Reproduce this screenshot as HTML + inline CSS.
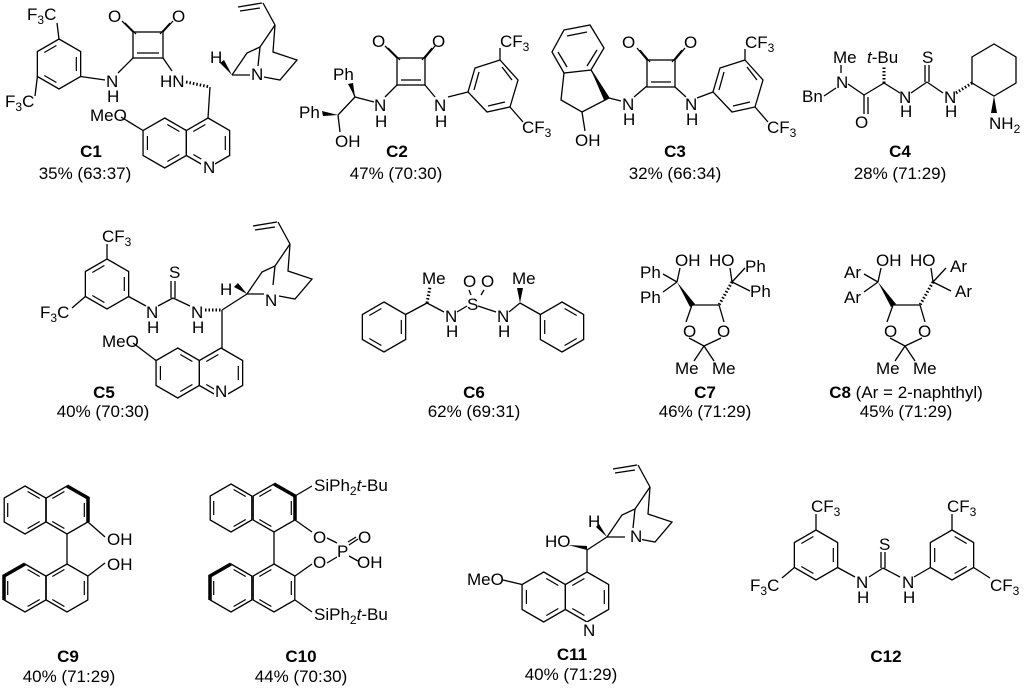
<!DOCTYPE html>
<html><head><meta charset="utf-8"><style>
html,body{margin:0;padding:0;background:#fff;}
svg{display:block;font-family:"Liberation Sans",Arial,sans-serif;font-size:17px;}
.b{font-weight:bold;}
.m{text-anchor:middle;}
</style></head><body>
<svg width="1024" height="692" viewBox="0 0 1024 692" xmlns="http://www.w3.org/2000/svg">
<defs>
<polygon id="h" points="0,-25 21.65,-12.5 21.65,12.5 0,25 -21.65,12.5 -21.65,-12.5" fill="none" stroke="#000" stroke-width="1.3"/>
<polygon id="h4" points="0,-24 20.8,-12 20.8,12 0,24 -20.8,12 -20.8,-12" fill="none" stroke="#000" stroke-width="1.3"/>
<g id="ia" stroke="#000" stroke-width="1.2" fill="none">
<line x1="2.6" y1="-18.5" x2="14.7" y2="-11.5"/><line x1="14.7" y1="11.5" x2="2.6" y2="18.5"/><line x1="-17.3" y1="7" x2="-17.3" y2="-7"/>
</g>
<g id="ib" stroke="#000" stroke-width="1.2" fill="none">
<line x1="17.3" y1="-7" x2="17.3" y2="7"/><line x1="-2.6" y1="18.5" x2="-14.7" y2="11.5"/><line x1="-14.7" y1="-11.5" x2="-2.6" y2="-18.5"/>
</g>
<g id="q" stroke="#000" stroke-width="1.3" fill="none">
<line x1="6" y1="-68" x2="30" y2="-72"/><line x1="8" y1="-64" x2="28" y2="-67"/>
<line x1="31" y1="-72" x2="43" y2="-50"/>
<polyline points="43,-50 28,-28 15,-22 0,0"/>
<line x1="28" y1="-28" x2="26" y2="-9"/>
<polyline points="43,-50 41,-23 65,-15 48,5 32,2"/>
<line x1="0" y1="0" x2="18" y2="0"/>
</g>
<g id="tad">
<g stroke="#000" stroke-width="1.3" fill="none">
<line x1="663" y1="274" x2="677" y2="282"/><line x1="663" y1="292" x2="677" y2="282"/>
<line x1="680" y1="268" x2="677" y2="282"/>
<line x1="732" y1="282" x2="730" y2="268"/><line x1="732" y1="282" x2="745" y2="268"/><line x1="732" y1="282" x2="750" y2="291"/>
<line x1="692" y1="305" x2="719" y2="305"/>
<line x1="692" y1="305" x2="686" y2="322"/><line x1="719" y1="305" x2="724" y2="322"/>
<line x1="689" y1="338" x2="704" y2="346"/><line x1="721" y1="338" x2="704" y2="346"/>
<line x1="704" y1="346" x2="694" y2="361"/><line x1="704" y1="346" x2="714" y2="361"/>
<line x1="732" y1="282" x2="719" y2="305" stroke-dasharray="1.5,2" stroke-width="3"/>
</g>
<polygon points="677,282 690,307 695,304" fill="#000"/>
<text x="683" y="337">O</text><text x="717" y="337">O</text>
<text x="675" y="374">Me</text><text x="712" y="374">Me</text>
<text x="675" y="266">OH</text><text x="709" y="266">HO</text>
</g>
</defs>
<g stroke="#000" stroke-width="1.3" fill="none">
<!-- C1 -->
<use href="#h" x="59" y="64"/><use href="#ib" x="59" y="64"/>
<line x1="57" y1="23" x2="59" y2="39"/><line x1="35" y1="96" x2="37.4" y2="76.5"/>
<line x1="80.6" y1="76.5" x2="105" y2="80"/><line x1="118" y1="73" x2="133" y2="58"/>
<rect x="133" y="32" width="30" height="26"/><line x1="137" y1="53" x2="159" y2="53"/>
<line x1="133" y1="32" x2="122" y2="21"/><line x1="136" y1="34" x2="125" y2="23"/>
<line x1="163" y1="32" x2="173" y2="21"/><line x1="160" y1="34" x2="170" y2="23"/>
<line x1="163" y1="58" x2="172" y2="71"/>
<line x1="186" y1="82" x2="210" y2="87" stroke-dasharray="1.5,2" stroke-width="3"/>
<line x1="210" y1="87" x2="208" y2="118"/>
<use href="#q" x="232" y="75"/>
<use href="#h" x="208" y="143"/><use href="#h" x="164.7" y="143"/>
<use href="#ib" x="208" y="143"/><use href="#ia" x="164.7" y="143"/>
<line x1="121" y1="117" x2="143" y2="130.5"/>
<!-- C2 -->
<line x1="350" y1="84" x2="355" y2="97"/>
<line x1="355" y1="97" x2="374" y2="102"/><line x1="355" y1="97" x2="338" y2="115"/>
<line x1="338" y1="115" x2="340" y2="132"/>
<line x1="385" y1="97" x2="397" y2="85"/>
<rect x="397" y="58" width="28" height="27"/><line x1="401" y1="80" x2="421" y2="80"/>
<line x1="397" y1="58" x2="385" y2="46"/><line x1="400" y1="60" x2="388" y2="48"/>
<line x1="425" y1="58" x2="435" y2="46"/><line x1="422" y1="60" x2="432" y2="48"/>
<line x1="425" y1="85" x2="435" y2="97"/><line x1="448" y1="97" x2="468" y2="92"/>
<polygon points="500,60 518,80 510,107 487,112 468,92 475,68"/>
<line x1="502" y1="67" x2="512" y2="80"/><line x1="505" y1="102" x2="488" y2="106"/><line x1="474" y1="90" x2="479" y2="72"/>
<line x1="500" y1="48" x2="500" y2="60"/><line x1="510" y1="107" x2="523" y2="122"/>
<!-- C3 -->
<polygon points="564,30 590,25 604,48 591,70 564,73 552,52"/>
<line x1="567" y1="36" x2="587" y2="32"/><line x1="597" y1="50" x2="587" y2="66"/><line x1="567" y1="67" x2="558" y2="52"/>
<polyline points="564,73 561,100 582,112 609,98 591,70"/>
<line x1="582" y1="112" x2="585" y2="131"/>
<line x1="609" y1="98" x2="621" y2="101"/><line x1="634" y1="97" x2="647" y2="86"/>
<rect x="647" y="60" width="28" height="27"/><line x1="651" y1="82" x2="671" y2="82"/>
<line x1="647" y1="60" x2="637" y2="48"/><line x1="650" y1="62" x2="640" y2="50"/>
<line x1="675" y1="60" x2="685" y2="48"/><line x1="672" y1="62" x2="682" y2="50"/>
<line x1="675" y1="87" x2="686" y2="97"/><line x1="697" y1="98" x2="713" y2="92"/>
<polygon points="745,60 763,80 755,107 732,112 713,92 720,68"/>
<line x1="747" y1="67" x2="757" y2="80"/><line x1="750" y1="102" x2="733" y2="106"/><line x1="719" y1="90" x2="724" y2="72"/>
<line x1="745" y1="49" x2="745" y2="60"/><line x1="755" y1="107" x2="768" y2="122"/>
<!-- C4 -->
<line x1="841" y1="65" x2="841" y2="73"/><line x1="824" y1="96" x2="836" y2="88"/>
<line x1="848" y1="84" x2="864" y2="95"/>
<line x1="864" y1="95" x2="864" y2="114"/><line x1="868" y1="97" x2="868" y2="114"/>
<line x1="864" y1="95" x2="884" y2="83"/>
<line x1="884" y1="83" x2="884" y2="66" stroke-dasharray="1.5,2" stroke-width="3"/>
<line x1="884" y1="83" x2="900" y2="93"/>
<line x1="911" y1="93" x2="927" y2="82"/>
<line x1="925" y1="82" x2="925" y2="65"/><line x1="929" y1="82" x2="929" y2="65"/>
<line x1="927" y1="82" x2="943" y2="93"/>
<line x1="956" y1="93" x2="972" y2="83" stroke-dasharray="1.5,2" stroke-width="3"/>
<polygon points="972,83 972,57 994,44 1016,57 1016,83 994,96"/>
<!-- C5 -->
<use href="#h" x="107" y="284"/><use href="#ib" x="107" y="284"/>
<line x1="107" y1="244" x2="107" y2="259"/><line x1="72" y1="308" x2="85.4" y2="296.5"/>
<line x1="128.6" y1="296.5" x2="146" y2="306"/>
<line x1="158" y1="306" x2="173" y2="298"/>
<line x1="171" y1="298" x2="171" y2="281"/><line x1="175" y1="298" x2="175" y2="281"/>
<line x1="173" y1="298" x2="190" y2="306"/>
<line x1="205" y1="310" x2="222" y2="310" stroke-dasharray="1.5,2" stroke-width="3"/>
<line x1="222" y1="310" x2="222" y2="348"/>
<use href="#q" x="247" y="294"/>
<line x1="222" y1="310" x2="247" y2="294"/>
<use href="#h" x="221" y="373"/><use href="#h" x="177.7" y="373"/>
<use href="#ib" x="221" y="373"/><use href="#ia" x="177.7" y="373"/>
<line x1="133" y1="343" x2="156" y2="360.5"/>
<!-- C6 -->
<use href="#h" x="384" y="327"/><use href="#h" x="562" y="327"/>
<use href="#ib" x="384" y="327"/><use href="#ia" x="562" y="327"/>
<line x1="405.6" y1="314.5" x2="427" y2="303"/>
<line x1="427" y1="303" x2="430" y2="287" stroke-dasharray="1.5,2" stroke-width="3"/>
<line x1="427" y1="303" x2="444" y2="312"/>
<line x1="457" y1="312" x2="467" y2="306"/>
<line x1="478" y1="306" x2="496" y2="312"/>
<line x1="509" y1="312" x2="520" y2="303"/>
<line x1="520" y1="303" x2="540.4" y2="314.5"/>
<line x1="469" y1="290" x2="471" y2="295"/><line x1="484" y1="290" x2="481" y2="295"/>
<!-- C9 -->
<use href="#h4" x="25" y="510"/><use href="#h4" x="67" y="510"/>
<use href="#h4" x="25" y="588"/><use href="#h4" x="67" y="588"/>
<use href="#ia" x="25" y="510"/><use href="#ib" x="67" y="510"/>
<use href="#ia" x="25" y="588"/><use href="#ib" x="67" y="588"/>
<line x1="67" y1="534" x2="67" y2="564"/><line x1="88" y1="522" x2="105" y2="537"/><line x1="88" y1="576" x2="105" y2="563"/>
<polyline points="67,486 88,498 88,522" stroke-width="3.5"/>
<polyline points="4,600 4,576 25,564" stroke-width="3.5"/>
<!-- C10 -->
<use href="#h4" x="231" y="508"/><use href="#h4" x="274" y="508"/>
<use href="#h4" x="231" y="588"/><use href="#h4" x="274" y="588"/>
<use href="#ia" x="231" y="508"/><use href="#ib" x="274" y="508"/>
<use href="#ia" x="231" y="588"/><use href="#ib" x="274" y="588"/>
<line x1="274" y1="532" x2="274" y2="564"/><line x1="295" y1="496" x2="312" y2="486"/><line x1="295" y1="600" x2="312" y2="612"/>
<line x1="295" y1="520" x2="312" y2="532"/><line x1="295" y1="576" x2="312" y2="564"/>
<line x1="327" y1="538" x2="337" y2="543"/><line x1="327" y1="563" x2="337" y2="557"/>
<line x1="349" y1="545" x2="358" y2="539"/><line x1="348" y1="542" x2="356" y2="537"/>
<line x1="349" y1="556" x2="358" y2="561"/>
<polyline points="274,484 295,496 295,520" stroke-width="3.5"/>
<polyline points="210,600 210,576 231,564" stroke-width="3.5"/>
<!-- C11 -->
<line x1="587" y1="550" x2="607" y2="537"/>
<line x1="587" y1="550" x2="587" y2="572"/>
<use href="#q" x="607" y="537"/>
<use href="#h" x="587" y="597"/><use href="#h" x="543.7" y="597"/>
<use href="#ib" x="587" y="597"/><use href="#ia" x="543.7" y="597"/>
<line x1="503" y1="580" x2="522" y2="584.5"/>
<!-- C12 -->
<use href="#h" x="816" y="555"/><use href="#h" x="952" y="555"/>
<use href="#ib" x="816" y="555"/><use href="#ia" x="952" y="555"/>
<line x1="816" y1="514" x2="816" y2="530"/><line x1="782" y1="578" x2="794.4" y2="567.5"/>
<line x1="837.6" y1="567.5" x2="855" y2="577"/>
<line x1="869" y1="577" x2="883" y2="568"/>
<line x1="881" y1="568" x2="881" y2="552"/><line x1="885" y1="568" x2="885" y2="552"/>
<line x1="883" y1="568" x2="900" y2="577"/>
<line x1="914" y1="577" x2="930.4" y2="567.5"/>
<line x1="952" y1="514" x2="952" y2="530"/><line x1="973.6" y1="567.5" x2="990" y2="578"/>
</g>
<g fill="#000" stroke="none">
<polygon points="232,75 220,63 224,60" />
<polygon points="355,97 348,84 353,83"/>
<polygon points="338,115 322,111 323,116"/>
<polygon points="591,70 609,98 604,100"/>
<polygon points="994,96 991,113 997,113"/>
<polygon points="247,294 234,287 238,283"/>
<polygon points="520,303 517,288 523,288"/>
<polygon points="607,537 596,527 599,524"/>
<polygon points="568,545 587,550 587,546"/>
<!-- C1 text -->
<text x="27" y="20">F<tspan font-size="12" dy="4">3</tspan><tspan dy="-4">C</tspan></text>
<text x="5" y="107">F<tspan font-size="12" dy="4">3</tspan><tspan dy="-4">C</tspan></text>
<text x="108" y="22">O</text><text x="172" y="22">O</text>
<text x="106" y="87">N</text><text x="107" y="102">H</text>
<text x="160" y="87">HN</text><text x="210" y="63">H</text>
<rect x="250" y="66" width="13" height="15" fill="#fff"/><text x="251" y="80">N</text>
<text x="90" y="121">MeO</text>
<rect x="201" y="159" width="14" height="15" fill="#fff"/><text x="203" y="173">N</text>
<text x="91" y="157" class="b m">C1</text><text x="85" y="179" class="m">35% (63:37)</text>
<!-- C2 -->
<text x="333" y="80">Ph</text><text x="299" y="118">Ph</text><text x="335" y="147">OH</text>
<text x="374" y="111">N</text><text x="375" y="127">H</text>
<text x="434" y="111">N</text><text x="435" y="127">H</text>
<text x="372" y="47">O</text><text x="432" y="47">O</text>
<text x="500" y="47">CF<tspan font-size="12" dy="4">3</tspan></text><text x="522" y="133">CF<tspan font-size="12" dy="4">3</tspan></text>
<text x="397" y="157" class="b m">C2</text><text x="396" y="179" class="m">47% (70:30)</text>
<!-- C3 -->
<text x="575" y="146">OH</text><text x="622" y="110">N</text><text x="623" y="125">H</text>
<text x="685" y="110">N</text><text x="686" y="125">H</text>
<text x="622" y="48">O</text><text x="684" y="48">O</text>
<text x="745" y="48">CF<tspan font-size="12" dy="4">3</tspan></text><text x="767" y="133">CF<tspan font-size="12" dy="4">3</tspan></text>
<text x="675" y="157" class="b m">C3</text><text x="675" y="179" class="m">32% (66:34)</text>
<!-- C4 -->
<text x="833" y="63">Me</text><text x="836" y="88">N</text><text x="802" y="102">Bn</text><text x="855" y="128">O</text>
<text x="867" y="63"><tspan font-style="italic">t</tspan>-Bu</text><text x="922" y="63">S</text>
<text x="899" y="103">N</text><text x="900" y="117">H</text><text x="944" y="103">N</text><text x="945" y="117">H</text>
<text x="989" y="129">NH<tspan font-size="12" dy="4">2</tspan></text>
<text x="900" y="157" class="b m">C4</text><text x="900" y="179" class="m">28% (71:29)</text>
<!-- C5 -->
<text x="102" y="242">CF<tspan font-size="12" dy="4">3</tspan></text>
<text x="40" y="318">F<tspan font-size="12" dy="4">3</tspan><tspan dy="-4">C</tspan></text>
<text x="169" y="278">S</text><text x="146" y="318">N</text><text x="147" y="333">H</text>
<text x="191" y="318">N</text><text x="192" y="333">H</text><text x="220" y="295">H</text>
<rect x="264" y="292" width="13" height="15" fill="#fff"/><text x="265" y="306">N</text>
<text x="102" y="347">MeO</text>
<rect x="214" y="384" width="14" height="15" fill="#fff"/><text x="215" y="397">N</text>
<text x="104" y="398" class="b m">C5</text><text x="103" y="417" class="m">40% (70:30)</text>
<!-- C6 -->
<text x="422" y="284">Me</text><text x="512" y="284">Me</text>
<text x="467" y="310">S</text><text x="463" y="287">O</text><text x="481" y="287">O</text>
<text x="445" y="322">N</text><text x="446" y="337">H</text><text x="497" y="322">N</text><text x="498" y="337">H</text>
<text x="474" y="398" class="b m">C6</text><text x="474" y="417" class="m">62% (69:31)</text>
<!-- C7 -->
<use href="#tad"/>
<text x="640" y="278">Ph</text><text x="640" y="303">Ph</text><text x="745" y="272">Ph</text><text x="750" y="297">Ph</text>
<text x="705" y="398" class="b m">C7</text><text x="705" y="417" class="m">46% (71:29)</text>
<!-- C8 -->
<use href="#tad" x="201"/>
<text x="844" y="278">Ar</text><text x="844" y="303">Ar</text><text x="950" y="272">Ar</text><text x="955" y="297">Ar</text>
<text x="906" y="398" class="m"><tspan class="b">C8</tspan> (Ar = 2-naphthyl)</text><text x="906" y="417" class="m">45% (71:29)</text>
<!-- C9 -->
<text x="107" y="545">OH</text><text x="107" y="570">OH</text>
<text x="68" y="662" class="b m">C9</text><text x="69" y="682" class="m">40% (71:29)</text>
<!-- C10 -->
<text x="314" y="491">SiPh<tspan font-size="12" dy="4">2</tspan><tspan dy="-4" font-style="italic">t</tspan>-Bu</text>
<text x="314" y="620">SiPh<tspan font-size="12" dy="4">2</tspan><tspan dy="-4" font-style="italic">t</tspan>-Bu</text>
<text x="313" y="543">O</text><text x="313" y="568">O</text><text x="337" y="557">P</text>
<text x="358" y="543">O</text><text x="357" y="568">OH</text>
<text x="301" y="662" class="b m">C10</text><text x="301" y="682" class="m">44% (70:30)</text>
<!-- C11 -->
<text x="545" y="547">HO</text><text x="588" y="527">H</text>
<rect x="628" y="528" width="14" height="15" fill="#fff"/><text x="630" y="542">N</text>
<text x="467" y="585">MeO</text>
<rect x="581" y="622" width="14" height="15" fill="#fff"/><text x="583" y="636">N</text>
<text x="572" y="660" class="b m">C11</text><text x="571" y="680" class="m">40% (71:29)</text>
<!-- C12 -->
<text x="811" y="512">CF<tspan font-size="12" dy="4">3</tspan></text><text x="947" y="512">CF<tspan font-size="12" dy="4">3</tspan></text>
<text x="750" y="591">F<tspan font-size="12" dy="4">3</tspan><tspan dy="-4">C</tspan></text><text x="990" y="591">CF<tspan font-size="12" dy="4">3</tspan></text>
<text x="879" y="550">S</text><text x="856" y="588">N</text><text x="857" y="603">H</text><text x="902" y="588">N</text><text x="903" y="603">H</text>
<text x="886" y="662" class="b m">C12</text>
</g>
</svg>
</body></html>
